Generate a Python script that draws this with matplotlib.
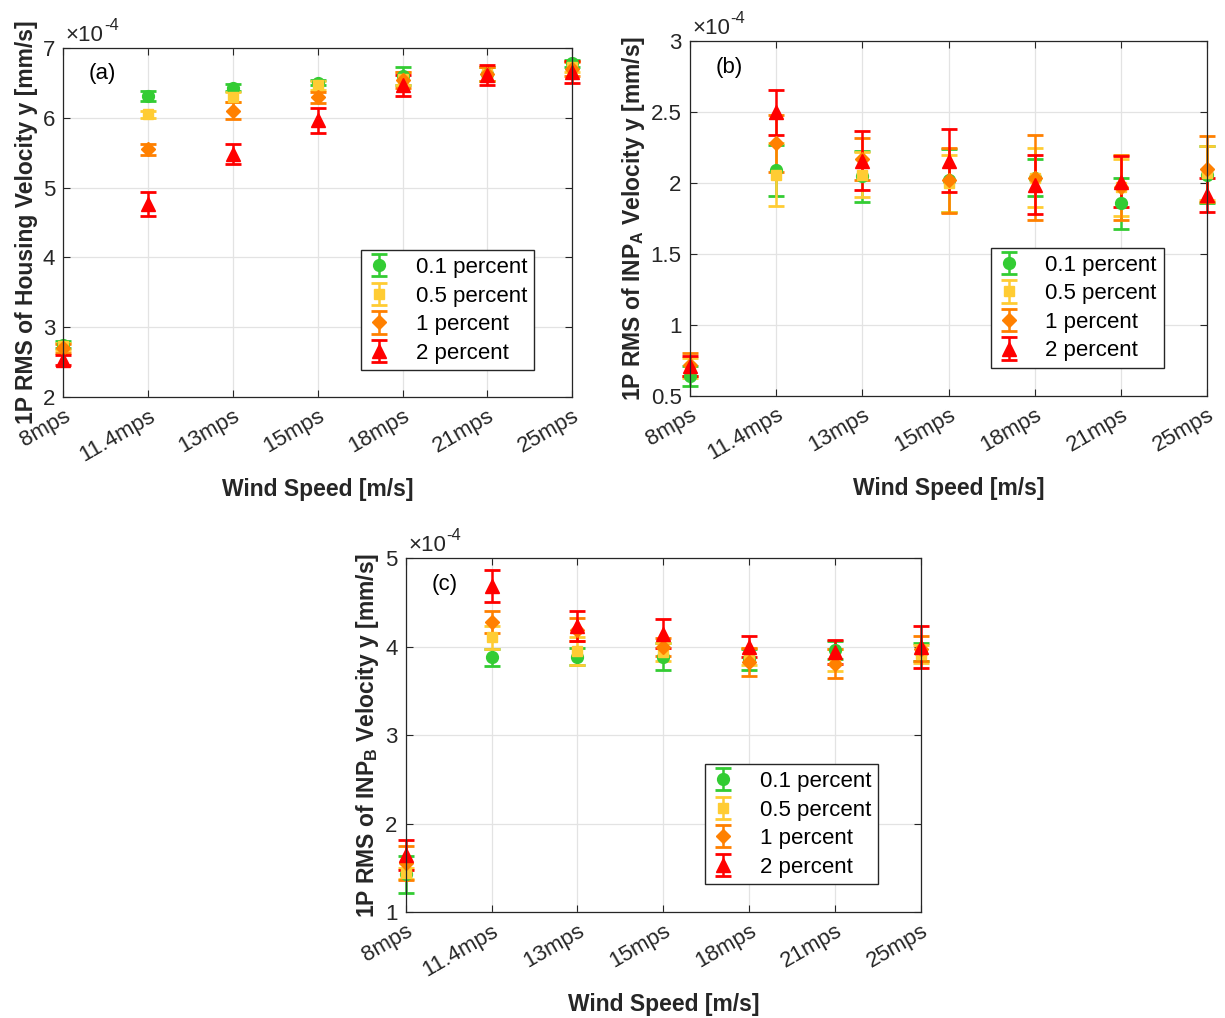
import numpy as np
import matplotlib
matplotlib.use("Agg")
import matplotlib.pyplot as plt
from matplotlib.ticker import FormatStrFormatter

plt.rcParams["font.family"] = ["Liberation Sans", "DejaVu Sans"]
plt.rcParams["mathtext.fontset"] = "custom"
plt.rcParams["mathtext.rm"] = "Liberation Sans"
plt.rcParams["mathtext.bf"] = "Liberation Sans:bold"
plt.rcParams["mathtext.it"] = "Liberation Sans:italic"

# --- data (values in units of 1e-4 mm/s) ------------------------------------
wind = ["8mps", "11.4mps", "13mps", "15mps", "18mps", "21mps", "25mps"]
labels = ["0.1 percent", "0.5 percent", "1 percent", "2 percent"]

# (a) housing
h_01 = [2.75, 6.31, 6.43, 6.50, 6.59, 6.63, 6.78]
h_01_err = [0.05, 0.07, 0.05, 0.04, 0.13, 0.10, 0.05]
h_05 = [2.73, 6.05, 6.30, 6.46, 6.56, 6.63, 6.73]
h_05_err = [0.05, 0.05, 0.07, 0.06, 0.10, 0.10, 0.08]
h_1 = [2.70, 5.55, 6.10, 6.29, 6.54, 6.63, 6.70]
h_1_err = [0.06, 0.08, 0.12, 0.08, 0.12, 0.10, 0.10]
h_2 = [2.53, 4.77, 5.48, 5.96, 6.46, 6.61, 6.65]
h_2_err = [0.07, 0.17, 0.14, 0.18, 0.15, 0.15, 0.16]

# (b) INP_A
a_01 = [0.64, 2.09, 2.05, 2.02, 2.04, 1.86, 2.06]
a_01_err = [0.07, 0.18, 0.18, 0.22, 0.13, 0.18, 0.20]
a_05 = [0.70, 2.06, 2.06, 2.00, 2.04, 1.97, 2.07]
a_05_err = [0.07, 0.22, 0.16, 0.20, 0.21, 0.20, 0.19]
a_1 = [0.72, 2.28, 2.17, 2.02, 2.04, 1.97, 2.10]
a_1_err = [0.08, 0.20, 0.15, 0.23, 0.30, 0.23, 0.23]
a_2 = [0.71, 2.50, 2.16, 2.16, 1.99, 2.01, 1.92]
a_2_err = [0.07, 0.16, 0.21, 0.22, 0.21, 0.18, 0.12]

# (c) INP_B
b_01 = [1.43, 3.88, 3.89, 3.89, 3.86, 3.96, 3.94]
b_01_err = [0.21, 0.10, 0.10, 0.15, 0.12, 0.10, 0.10]
b_05 = [1.44, 4.11, 3.95, 3.94, 3.89, 3.85, 3.92]
b_05_err = [0.06, 0.13, 0.16, 0.10, 0.10, 0.12, 0.10]
b_1 = [1.56, 4.28, 4.19, 4.00, 3.83, 3.81, 3.98]
b_1_err = [0.19, 0.12, 0.13, 0.10, 0.16, 0.16, 0.14]
b_2 = [1.65, 4.69, 4.23, 4.15, 4.00, 3.94, 4.00]
b_2_err = [0.17, 0.18, 0.17, 0.16, 0.12, 0.14, 0.24]

colors = ["#33cc33", "#ffcc33", "#ff8000", "#ff0000"]
markers = ["o", "s", "D", "^"]
msizes = [8.5, 7.5, 7.5, 9.5]
TXT = "#262626"
FS = 16


def draw_panel(ax, series, errs, ylim, yticks, ylabel, tag, leg_xy):
    xs = np.arange(len(wind))
    for vals, err, c, m, ms, lab in zip(series, errs, colors, markers, msizes, labels):
        eb = ax.errorbar(xs, vals, yerr=err, fmt=m, color=c, ms=ms, mec=c,
                         elinewidth=1.8, capsize=6, capthick=2, label=lab)
        for art in eb.lines[0:1] + tuple(eb.lines[1]) + tuple(eb.lines[2]):
            art.set_clip_on(False)
    ax.set_xlim(0, len(wind) - 1)
    ax.set_ylim(*ylim)
    ax.set_yticks(yticks)
    ax.yaxis.set_major_formatter(FormatStrFormatter("%g"))
    ax.set_xticks(xs)
    ax.set_xticklabels(wind, rotation=30, ha="right", va="top",
                       rotation_mode="anchor")
    ax.tick_params(direction="in", top=True, right=True, labelsize=FS,
                   colors=TXT, length=5, width=0.8, pad=6)
    ax.grid(True, color="#e3e3e3", linewidth=0.9)
    ax.set_axisbelow(True)
    for sp in ax.spines.values():
        sp.set_color(TXT)
        sp.set_linewidth(0.9)
    ax.set_xlabel("Wind Speed [m/s]", fontsize=16.5, fontweight="bold",
                  color=TXT, labelpad=9)
    ax.set_ylabel(ylabel, fontsize=16.5, fontweight="bold", color=TXT, labelpad=3)
    ax.text(0.05, 0.925, tag, transform=ax.transAxes, fontsize=FS,
            va="center", ha="left", color="black")
    # exponent label, MATLAB style
    base = ax.text(0.005, 1.006, "×10", transform=ax.transAxes,
                   fontsize=FS, va="bottom", ha="left", color=TXT)
    ax.annotate("-4", xy=(1.0, 0.62), xycoords=base, fontsize=12,
                va="bottom", ha="left", color=TXT)
    ax.legend(loc="lower left", bbox_to_anchor=leg_xy, borderaxespad=0,
              fontsize=FS, frameon=True, fancybox=False, framealpha=1,
              edgecolor=TXT, handlelength=1.0, handletextpad=1.15,
              labelspacing=0.34, borderpad=0.3)


fig = plt.figure(figsize=(12.25, 10.18), dpi=100)
ax_a = fig.add_axes([0.0517, 0.6097, 0.4155, 0.3434])
ax_b = fig.add_axes([0.5633, 0.6110, 0.4220, 0.3484])
ax_c = fig.add_axes([0.3312, 0.1038, 0.4206, 0.3478])

draw_panel(ax_a, [h_01, h_05, h_1, h_2], [h_01_err, h_05_err, h_1_err, h_2_err],
           (2, 7), [2, 3, 4, 5, 6, 7],
           "1P RMS of Housing Velocity y [mm/s]", "(a)", (0.585, 0.077))
draw_panel(ax_b, [a_01, a_05, a_1, a_2], [a_01_err, a_05_err, a_1_err, a_2_err],
           (0.5, 3), [0.5, 1, 1.5, 2, 2.5, 3],
           r"1P RMS of INP$_{\mathbf{A}}$ Velocity y [mm/s]", "(b)", (0.582, 0.079))
draw_panel(ax_c, [b_01, b_05, b_1, b_2], [b_01_err, b_05_err, b_1_err, b_2_err],
           (1, 5), [1, 2, 3, 4, 5],
           r"1P RMS of INP$_{\mathbf{B}}$ Velocity y [mm/s]", "(c)", (0.581, 0.079))

fig.savefig("out.png", dpi=100, facecolor="white")
